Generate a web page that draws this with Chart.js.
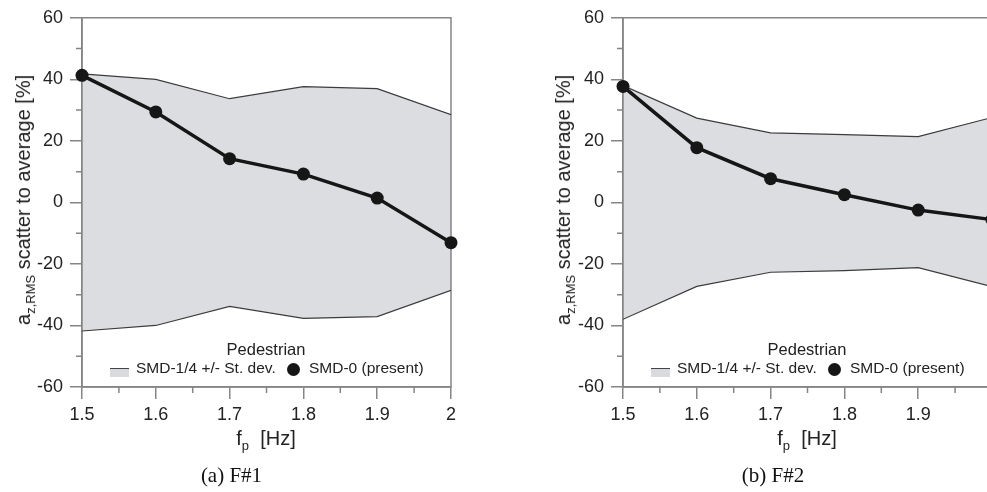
<!DOCTYPE html>
<html>
<head>
<meta charset="utf-8">
<script src="https://cdn.jsdelivr.net/npm/chart.js@4/dist/chart.umd.min.js"></script>
<style>
  html, body { margin:0; padding:0; width:987px; height:492px; overflow:hidden; background:#fff; }
  body { position:relative; font-family:"Liberation Sans", Arial, sans-serif; color:#222; }
  .panel { position:absolute; top:0; width:490px; height:492px; }
  .panel canvas { position:absolute; left:0; top:0; }
  .ytitle { position:absolute; transform:translate(-50%,-50%) rotate(-90deg); white-space:nowrap;
            font-size:20px; line-height:20px; }
  .ytitle sub, .xtitle sub { font-size:13px; vertical-align:-5px; line-height:0; }
  .xtitle { position:absolute; transform:translateX(-50%); white-space:nowrap; font-size:20px; line-height:20px; }
  .legtitle { position:absolute; transform:translateX(-50%); white-space:nowrap; font-size:16.5px; line-height:16.5px; }
  .legtext { position:absolute; white-space:nowrap; font-size:15.5px; line-height:15.5px; }
  .legband { position:absolute; background:#d9dadd; }
  .legline { position:absolute; height:1.5px; background:#444; }
  .legdot { position:absolute; width:13px; height:13px; border-radius:50%; background:#151515; }
  .caption { position:absolute; transform:translateX(-50%); white-space:nowrap;
             font-family:"Liberation Serif", "Times New Roman", serif; font-size:21px; line-height:21px; color:#111; }
</style>
</head>
<body>

<div class="panel" id="p1" style="left:0px">
  <canvas id="c1" width="490" height="430"></canvas>
  <div class="ytitle" style="left:23px;top:200px">a<sub>z,RMS</sub> scatter to average [%]</div>
  <div class="legtitle" style="left:266px;top:341px">Pedestrian</div>
  <div class="legband" style="left:110px;top:369px;width:19px;height:8px"></div>
  <div class="legline" style="left:110px;top:367.5px;width:19px"></div>
  <div class="legtext" style="left:136px;top:360px">SMD-1/4 +/- St. dev.</div>
  <div class="legdot" style="left:286.5px;top:363px"></div>
  <div class="legtext" style="left:309px;top:360px">SMD-0 (present)</div>
  <div class="xtitle" style="left:266px;top:428px">f<sub>p</sub>&nbsp;&nbsp;[Hz]</div>
  <div class="caption" style="left:231.5px;top:465px">(a) F#1</div>
</div>

<div class="panel" id="p2" style="left:541px">
  <canvas id="c2" width="490" height="430"></canvas>
  <div class="ytitle" style="left:22px;top:200px">a<sub>z,RMS</sub> scatter to average [%]</div>
  <div class="legtitle" style="left:266px;top:341px">Pedestrian</div>
  <div class="legband" style="left:110px;top:369px;width:19px;height:8px"></div>
  <div class="legline" style="left:110px;top:367.5px;width:19px"></div>
  <div class="legtext" style="left:136px;top:360px">SMD-1/4 +/- St. dev.</div>
  <div class="legdot" style="left:286.5px;top:363px"></div>
  <div class="legtext" style="left:309px;top:360px">SMD-0 (present)</div>
  <div class="xtitle" style="left:266px;top:428px">f<sub>p</sub>&nbsp;&nbsp;[Hz]</div>
  <div class="caption" style="left:232px;top:465px">(b) F#2</div>
</div>

<script>
// ---------------- DATA ----------------
const freqF1 = [1.5, 1.6, 1.7, 1.8, 1.9, 2.0];
const bandUpperF1 = [41.8, 40.0, 33.7, 37.6, 37.0, 28.5];
const bandLowerF1 = [-41.8, -40.0, -33.8, -37.7, -37.1, -28.6];
const smd0F1 = [41.3, 29.4, 14.2, 9.2, 1.4, -13.1];

const freqF2 = [1.5, 1.6, 1.7, 1.8, 1.9, 2.0];
const bandUpperF2 = [38.0, 27.4, 22.6, 22.0, 21.4, 27.6];
const bandLowerF2 = [-38.0, -27.3, -22.7, -22.2, -21.2, -27.4];
const smd0F2 = [37.7, 17.8, 7.7, 2.5, -2.5, -5.6];

const xMajorTicks = [1.5, 1.6, 1.7, 1.8, 1.9, 2.0];
const xMinorTicks = [1.55, 1.65, 1.75, 1.85, 1.95];
const yMajorTicks = [-60, -40, -20, 0, 20, 40, 60];
const yMinorTicks = [-50, -30, -10, 10, 30, 50];

// ---------------- STYLE ----------------
const AXIS = '#858585';
const BAND_FILL = '#dcdde0';
const BAND_LINE = '#3c3c3c';
const MAIN = '#161616';
const FONT = "'Liberation Sans', Arial, sans-serif";

function pts(xs, ys) { return xs.map((x, i) => ({ x: x, y: ys[i] })); }

const framePlugin = {
  id: 'frameMinor',
  beforeDatasetsDraw(chart) {
    const { ctx, chartArea: a, scales } = chart;
    const x = scales.x, y = scales.y;
    ctx.save();
    ctx.strokeStyle = AXIS;
    ctx.lineWidth = 1.5;
    ctx.beginPath();
    ctx.moveTo(a.left, a.bottom); ctx.lineTo(a.left, a.top);
    ctx.lineTo(a.right, a.top); ctx.lineTo(a.right, a.bottom);
    ctx.lineTo(a.left, a.bottom);
    yMinorTicks.forEach(v => { const py = y.getPixelForValue(v); ctx.moveTo(a.left - 6, py); ctx.lineTo(a.left, py); });
    xMinorTicks.forEach(v => { const px = x.getPixelForValue(v); ctx.moveTo(px, a.bottom); ctx.lineTo(px, a.bottom + 6); });
    ctx.stroke();
    ctx.restore();
  }
};

function makeChart(id, freq, up, lo, main) {
  return new Chart(document.getElementById(id), {
    type: 'line',
    data: {
      datasets: [
        { label: 'SMD-0 (present)', data: pts(freq, main), borderColor: MAIN, borderWidth: 3.5,
          pointRadius: 6.5, pointBackgroundColor: MAIN, pointBorderColor: MAIN, pointBorderWidth: 0,
          fill: false, clip: 10, tension: 0 },
        { label: 'SMD-1/4 +/- St. dev.', data: pts(freq, up), borderColor: BAND_LINE, borderWidth: 1.2,
          pointRadius: 0, fill: '+1', backgroundColor: BAND_FILL, tension: 0 },
        { label: 'lower', data: pts(freq, lo), borderColor: BAND_LINE, borderWidth: 1.2,
          pointRadius: 0, fill: false, tension: 0 }
      ]
    },
    options: {
      responsive: false,
      animation: false,
      events: [],
      layout: { padding: { left: 0, top: 17, right: 39, bottom: 0 } },
      plugins: {
        legend: { display: false },
        tooltip: { enabled: false },
        filler: { drawTime: 'beforeDatasetsDraw' }
      },
      scales: {
        x: {
          type: 'linear', min: 1.5, max: 2.0,
          afterFit: s => { s.height = 43; },
          afterBuildTicks: s => { s.ticks = xMajorTicks.map(v => ({ value: v })); },
          grid: { drawOnChartArea: false, tickLength: 12, color: AXIS, lineWidth: 1.5 },
          border: { color: AXIS, width: 1.5 },
          ticks: { padding: 5, color: '#222', font: { family: FONT, size: 18 }, maxRotation: 0,
                   callback: v => String(+(+v).toFixed(2)) }
        },
        y: {
          min: -60, max: 60,
          afterFit: s => { s.width = 82; },
          afterBuildTicks: s => { s.ticks = yMajorTicks.map(v => ({ value: v })); },
          grid: { drawOnChartArea: false, tickLength: 12, color: AXIS, lineWidth: 1.5 },
          border: { color: AXIS, width: 1.5 },
          ticks: { padding: 7, color: '#222', font: { family: FONT, size: 18 },
                   callback: v => String(Math.round(v)) }
        }
      }
    },
    plugins: [framePlugin]
  });
}

makeChart('c1', freqF1, bandUpperF1, bandLowerF1, smd0F1);
makeChart('c2', freqF2, bandUpperF2, bandLowerF2, smd0F2);
</script>
</body>
</html>
